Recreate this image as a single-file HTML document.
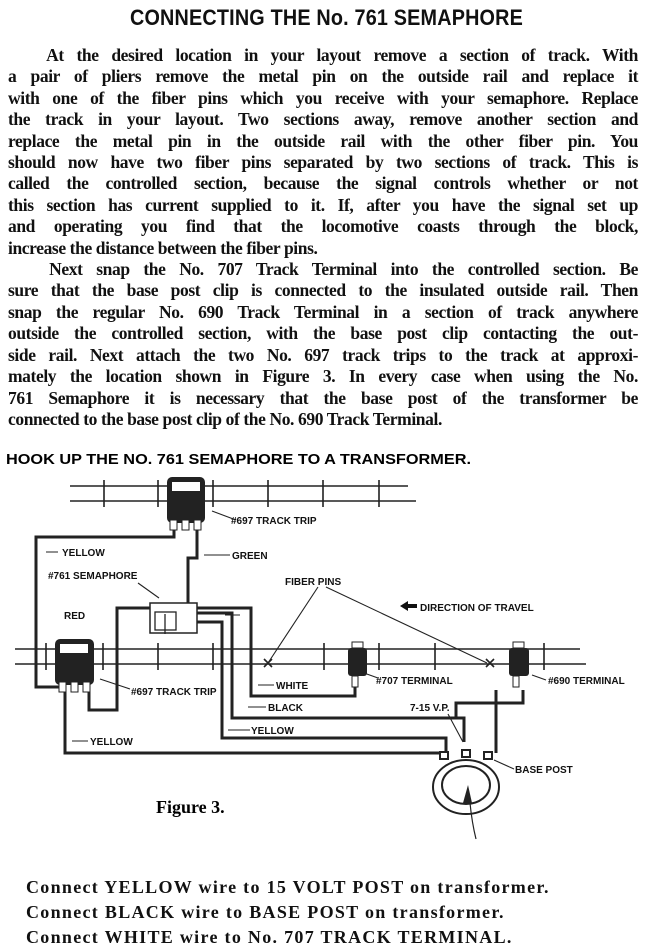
<!DOCTYPE html>
<html><head><meta charset="utf-8"><style>
html,body{margin:0;padding:0;background:#fff;}
body{width:653px;height:949px;position:relative;overflow:hidden;color:#111;}
.t{position:absolute;left:0;top:5px;width:653px;text-align:center;font:bold 22px "Liberation Sans",sans-serif;letter-spacing:0.2px;transform:scaleX(0.9);}
.p{position:absolute;left:8px;width:630px;font:bold 17.5px/21.4px "Liberation Serif",serif;letter-spacing:-0.4px;}
.p div{text-align:justify;text-align-last:justify;white-space:nowrap;}
.p div.l{text-align-last:left;}
.b{position:absolute;left:26px;font:bold 18px/25px "Liberation Serif",serif;letter-spacing:1.3px;}
svg{position:absolute;left:0;top:0;}
svg text{font-family:"Liberation Sans",sans-serif;font-weight:bold;}
</style></head><body>
<div class="t">CONNECTING THE No. 761 SEMAPHORE</div>
<div class="p" style="top:45px">
<div>&nbsp;&nbsp;&nbsp;At the desired location in your layout remove a section of track. With</div>
<div>a pair of pliers remove the metal pin on the outside rail and replace it</div>
<div>with one of the fiber pins which you receive with your semaphore. Replace</div>
<div>the track in your layout. Two sections away, remove another section and</div>
<div>replace the metal pin in the outside rail with the other fiber pin. You</div>
<div>should now have two fiber pins separated by two sections of track. This is</div>
<div>called the controlled section, because the signal controls whether or not</div>
<div>this section has current supplied to it. If, after you have the signal set up</div>
<div>and operating you find that the locomotive coasts through the block,</div>
<div class="l">increase the distance between the fiber pins.</div>
<div>&nbsp;&nbsp;&nbsp;Next snap the No. 707 Track Terminal into the controlled section. Be</div>
<div>sure that the base post clip is connected to the insulated outside rail. Then</div>
<div>snap the regular No. 690 Track Terminal in a section of track anywhere</div>
<div>outside the controlled section, with the base post clip contacting the out-</div>
<div>side rail. Next attach the two No. 697 track trips to the track at approxi-</div>
<div>mately the location shown in Figure 3. In every case when using the No.</div>
<div>761 Semaphore it is necessary that the base post of the transformer be</div>
<div class="l">connected to the base post clip of the No. 690 Track Terminal.</div>
</div>
<svg width="653" height="949" viewBox="0 0 653 949">
<text x="6" y="464" font-size="14.5" textLength="465" lengthAdjust="spacingAndGlyphs">HOOK UP THE NO. 761 SEMAPHORE TO A TRANSFORMER.</text>
<g stroke="#222" stroke-width="1.6" fill="none">
<line x1="70" y1="486" x2="408" y2="486"/><line x1="70" y1="501" x2="416" y2="501"/>
<path d="M104 480V507M158 480V507M213 480V507M268 480V507M323 480V507M379 480V507"/>
<line x1="15" y1="649" x2="580" y2="649"/><line x1="15" y1="664" x2="586" y2="664"/>
<path d="M46 643V670M103 643V670M158 643V670M213 643V670M324 643V670M379 643V670M435 643V670M544 643V670"/>
<path d="M264 659l8 8M272 659l-8 8M486 659l8 8M494 659l-8 8"/>
</g>
<g stroke="#222" stroke-width="3" fill="none">
<path d="M174 528V537H36V687H59"/>
<path d="M197 528V558H188V603"/>
<path d="M150 608H117V710H89V690"/>
<path d="M197 608H251V696H355V687"/>
<path d="M197 613H232V718H464V742"/>
<path d="M197 622H222V738H446V753"/>
<path d="M65 690V753H443"/>
<path d="M523 690V703H456V718"/>
<path d="M496 690V753"/>
</g>
<rect x="150" y="603" width="47" height="30" fill="#fff" stroke="#222" stroke-width="1.5"/>
<rect x="155" y="612" width="21" height="18" fill="none" stroke="#222" stroke-width="1.3"/>
<line x1="165" y1="614" x2="165" y2="634" stroke="#222" stroke-width="1.3"/>
<rect x="167" y="477" width="38" height="46" rx="5" fill="#222"/>
<rect x="172" y="482" width="28" height="9" fill="#fff"/>
<rect x="170" y="520" width="7" height="10" fill="#fff" stroke="#222"/><rect x="182" y="520" width="7" height="10" fill="#fff" stroke="#222"/><rect x="194" y="520" width="7" height="10" fill="#fff" stroke="#222"/>
<rect x="55" y="639" width="39" height="46" rx="5" fill="#222"/>
<rect x="60" y="644" width="28" height="9" fill="#fff"/>
<rect x="59" y="682" width="7" height="10" fill="#fff" stroke="#222"/><rect x="71" y="682" width="7" height="10" fill="#fff" stroke="#222"/><rect x="83" y="682" width="7" height="10" fill="#fff" stroke="#222"/>
<rect x="348" y="648" width="19" height="28" rx="3" fill="#222"/><rect x="352" y="642" width="11" height="6" fill="#fff" stroke="#222"/>
<rect x="352" y="676" width="6" height="11" fill="#fff" stroke="#222"/>
<rect x="509" y="648" width="20" height="28" rx="3" fill="#222"/><rect x="513" y="642" width="11" height="6" fill="#fff" stroke="#222"/>
<rect x="513" y="676" width="6" height="11" fill="#fff" stroke="#222"/>
<g stroke="#222" stroke-width="2" fill="#fff">
<ellipse cx="466" cy="787" rx="33" ry="27"/>
<ellipse cx="466" cy="785" rx="24" ry="19"/>
<rect x="440" y="752" width="8" height="7"/><rect x="462" y="750" width="8" height="7"/><rect x="484" y="752" width="8" height="7"/>
</g>
<path d="M463 803l5-18 4 18z" fill="#222"/><path d="M470 803q2 20 6 36" stroke="#222" fill="none" stroke-width="1.2"/>
<g stroke="#222" stroke-width="1.1" fill="none">
<line x1="318" y1="587" x2="268" y2="663"/><line x1="326" y1="587" x2="487" y2="663"/>
<line x1="138" y1="583" x2="159" y2="598"/>
<line x1="236" y1="520" x2="212" y2="511"/>
<line x1="130" y1="689" x2="100" y2="679"/>
<line x1="378" y1="678" x2="364" y2="673"/>
<line x1="546" y1="680" x2="532" y2="675"/>
<line x1="514" y1="769" x2="494" y2="760"/>
<line x1="448" y1="714" x2="463" y2="742"/>
<path d="M58 552H46M230 555H204M274 685H258M266 707H248M250 730H228M88 741H72M225 615H240"/>
</g>
<polygon points="400,606 408,601 408,611" fill="#111"/><rect x="407" y="604" width="10" height="4" fill="#111"/>
<g font-size="10" fill="#111">
<text x="231" y="524">#697 TRACK TRIP</text>
<text x="62" y="556">YELLOW</text>
<text x="232" y="559">GREEN</text>
<text x="48" y="579">#761 SEMAPHORE</text>
<text x="285" y="585">FIBER PINS</text>
<text x="64" y="619">RED</text>
<text x="420" y="611">DIRECTION OF TRAVEL</text>
<text x="131" y="695">#697 TRACK TRIP</text>
<text x="276" y="689">WHITE</text>
<text x="376" y="684">#707 TERMINAL</text>
<text x="548" y="684">#690 TERMINAL</text>
<text x="268" y="711">BLACK</text>
<text x="410" y="711">7-15 V.P.</text>
<text x="251" y="734">YELLOW</text>
<text x="90" y="745">YELLOW</text>
<text x="515" y="773">BASE POST</text>
</g>
<text x="156" y="813" font-size="18" font-weight="bold" style="font-family:'Liberation Serif',serif">Figure 3.</text>
</svg>
<div class="b" style="top:875px">Connect YELLOW wire to 15 VOLT POST on transformer.<br>Connect BLACK wire to BASE POST on transformer.<br>Connect WHITE wire to No. 707 TRACK TERMINAL.</div>
</body></html>
